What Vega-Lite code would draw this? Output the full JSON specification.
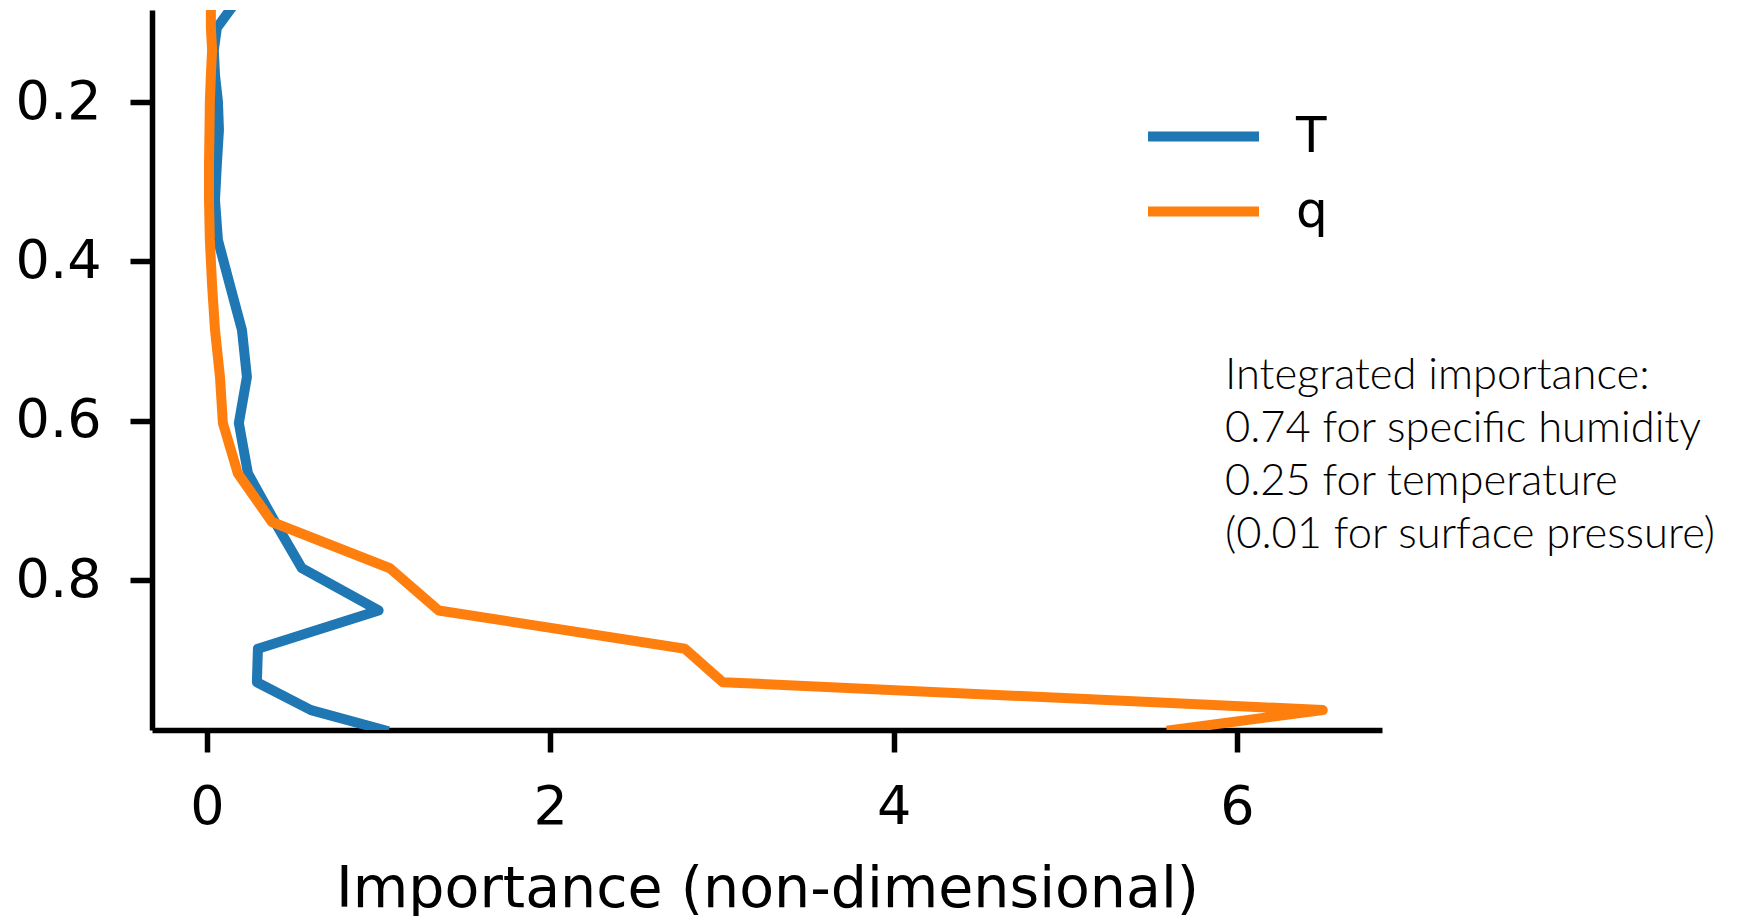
{
  "$schema": "https://vega.github.io/schema/vega-lite/v6.json",
  "autosize": {"type": "none"},
  "padding": {"left": 152, "top": 10, "right": 356, "bottom": 186},
  "width": 1230,
  "height": 720,
  "background": "white",
  "config": {
    "view": {"stroke": null},
    "axis": {
      "grid": false,
      "domainColor": "black",
      "domainWidth": 5.5,
      "tickColor": "black",
      "tickWidth": 5.5,
      "tickSize": 22,
      "labelFont": "DejaVu Sans",
      "labelColor": "black",
      "labelFontSize": 54,
      "titleFont": "DejaVu Sans",
      "titleColor": "black",
      "titleFontSize": 57,
      "titleFontWeight": "normal"
    },
    "legend": {
      "labelFont": "DejaVu Sans",
      "labelColor": "black"
    }
  },
  "datasets": {
    "profiles": [
      {"sigma": 0.062, "var": "T", "importance": 0.21},
      {"sigma": 0.107, "var": "T", "importance": 0.058},
      {"sigma": 0.135, "var": "T", "importance": 0.04},
      {"sigma": 0.166, "var": "T", "importance": 0.047},
      {"sigma": 0.199, "var": "T", "importance": 0.064},
      {"sigma": 0.235, "var": "T", "importance": 0.07},
      {"sigma": 0.277, "var": "T", "importance": 0.058},
      {"sigma": 0.323, "var": "T", "importance": 0.047},
      {"sigma": 0.373, "var": "T", "importance": 0.064},
      {"sigma": 0.43, "var": "T", "importance": 0.134},
      {"sigma": 0.486, "var": "T", "importance": 0.204},
      {"sigma": 0.545, "var": "T", "importance": 0.233},
      {"sigma": 0.603, "var": "T", "importance": 0.186},
      {"sigma": 0.666, "var": "T", "importance": 0.239},
      {"sigma": 0.727, "var": "T", "importance": 0.396},
      {"sigma": 0.785, "var": "T", "importance": 0.553},
      {"sigma": 0.838, "var": "T", "importance": 1.0},
      {"sigma": 0.886, "var": "T", "importance": 0.297},
      {"sigma": 0.928, "var": "T", "importance": 0.291},
      {"sigma": 0.963, "var": "T", "importance": 0.606},
      {"sigma": 0.988, "var": "T", "importance": 1.03},
      {"sigma": 0.062, "var": "q", "importance": 0.023},
      {"sigma": 0.107, "var": "q", "importance": 0.023},
      {"sigma": 0.135, "var": "q", "importance": 0.03},
      {"sigma": 0.166, "var": "q", "importance": 0.023},
      {"sigma": 0.199, "var": "q", "importance": 0.017},
      {"sigma": 0.235, "var": "q", "importance": 0.015},
      {"sigma": 0.277, "var": "q", "importance": 0.012},
      {"sigma": 0.323, "var": "q", "importance": 0.012},
      {"sigma": 0.373, "var": "q", "importance": 0.017},
      {"sigma": 0.43, "var": "q", "importance": 0.03},
      {"sigma": 0.486, "var": "q", "importance": 0.047},
      {"sigma": 0.545, "var": "q", "importance": 0.076},
      {"sigma": 0.603, "var": "q", "importance": 0.093},
      {"sigma": 0.666, "var": "q", "importance": 0.18},
      {"sigma": 0.727, "var": "q", "importance": 0.379},
      {"sigma": 0.785, "var": "q", "importance": 1.066},
      {"sigma": 0.838, "var": "q", "importance": 1.35},
      {"sigma": 0.886, "var": "q", "importance": 2.784},
      {"sigma": 0.928, "var": "q", "importance": 3.005},
      {"sigma": 0.963, "var": "q", "importance": 6.50},
      {"sigma": 0.988, "var": "q", "importance": 5.62}
    ],
    "note": [
      {"lines": ["Integrated importance:", "0.74 for specific humidity", "0.25 for temperature", "(0.01 for surface pressure)"]}
    ]
  },
  "layer": [
    {
      "mark": {"type": "rule", "color": "black", "strokeWidth": 3, "strokeDash": [15, 17]},
      "encoding": {
        "x": {"datum": 0, "type": "quantitative"}
      }
    },
    {
      "data": {"name": "profiles"},
      "mark": {"type": "line", "strokeWidth": 10, "strokeJoin": "round", "strokeCap": "square", "clip": true},
      "encoding": {
        "x": {
          "field": "importance",
          "type": "quantitative",
          "scale": {"domain": [-0.32, 6.845], "nice": false, "zero": false},
          "axis": {"values": [0, 2, 4, 6], "format": "d", "title": "Importance (non-dimensional)", "labelPadding": 28, "titlePadding": 27}
        },
        "y": {
          "field": "sigma",
          "type": "quantitative",
          "scale": {"domain": [0.0845, 0.988], "reverse": true, "nice": false, "zero": false},
          "axis": {"values": [0.2, 0.4, 0.6, 0.8], "format": ".1f", "title": null, "labelPadding": 29}
        },
        "color": {
          "field": "var",
          "type": "nominal",
          "scale": {"domain": ["T", "q"], "range": ["#1f77b4", "#ff7f0e"]},
          "legend": {
            "title": null,
            "orient": "none",
            "legendX": 991,
            "legendY": 89,
            "symbolType": "stroke",
            "symbolSize": 12321,
            "symbolStrokeWidth": 10,
            "labelFontSize": 50,
            "labelOffset": 32,
            "clipHeight": 75,
            "rowPadding": 0,
            "padding": 0
          }
        },
        "order": {"field": "sigma", "type": "quantitative"}
      }
    },
    {
      "data": {"name": "note"},
      "mark": {"type": "text", "font": "Lato", "fontWeight": 300, "fontSize": 43.5, "lineHeight": 53, "align": "left", "baseline": "alphabetic", "color": "black"},
      "encoding": {
        "text": {"field": "lines"},
        "x": {"datum": 5.93, "type": "quantitative"},
        "y": {"datum": 0.5602, "type": "quantitative"}
      }
    }
  ]
}
